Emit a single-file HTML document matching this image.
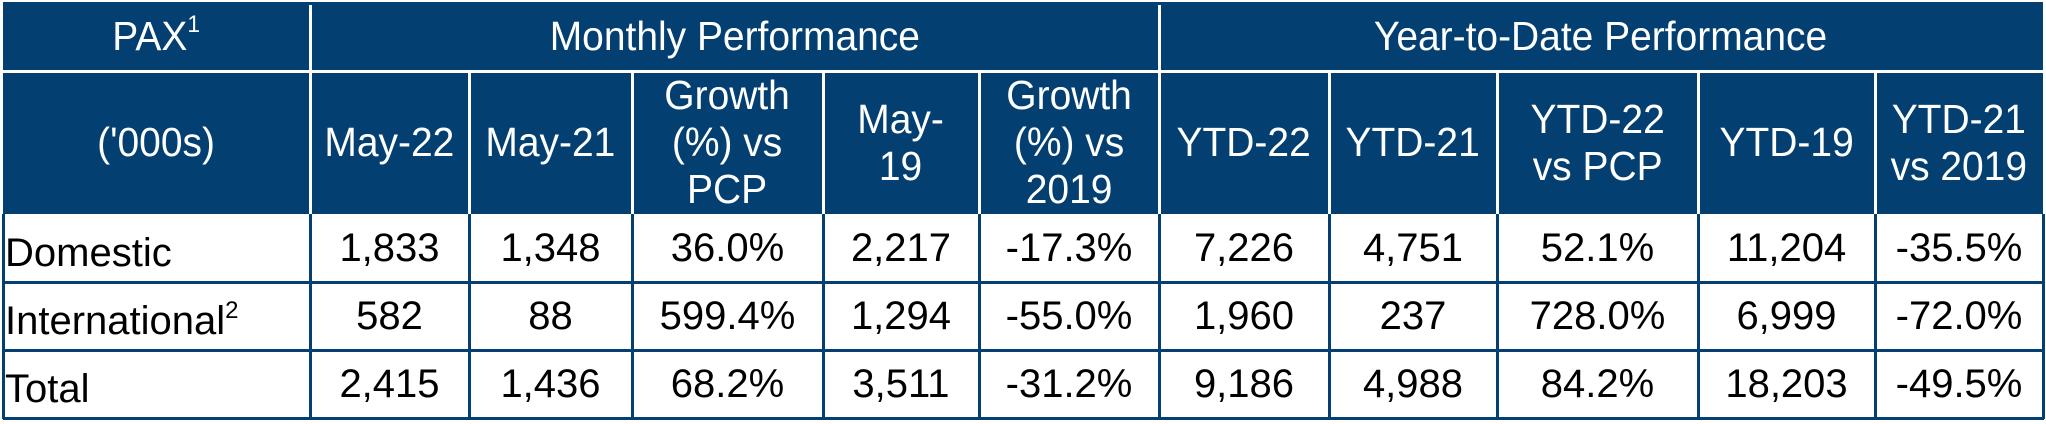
<!DOCTYPE html>
<html><head><meta charset="utf-8">
<style>
html,body{margin:0;padding:0;background:#fff;}
body{width:2046px;height:424px;position:relative;overflow:hidden;font-family:"Liberation Sans",Arial,sans-serif;}
.c{position:absolute;box-sizing:border-box;display:flex;align-items:center;justify-content:center;text-align:center;}
.h{background:#033f70;color:#fff;font-size:41px;line-height:47px;}
.h span{display:inline-block;transform:scaleX(0.95);}
.b{color:#000;font-size:40px;background:#fff;}
.lbl{justify-content:flex-start;align-items:flex-end;padding-left:2px;padding-bottom:6px;}
sup{font-size:24px;vertical-align:top;line-height:24px;position:relative;top:0px;}
.vl{position:absolute;width:3px;}
.hl{position:absolute;height:3px;}
</style></head><body>
<div id="t"></div>
<script>
const colX=[3,310,469,632,823,979,1159,1329,1497,1698,1875,2043];
const rowY=[2,71,214,282,350,418];
const headers=["May-22","May-21","Growth<br>(%) vs<br>PCP","May-<br>19","Growth<br>(%) vs<br>2019","YTD-22","YTD-21","YTD-22<br>vs PCP","YTD-19","YTD-21<br>vs 2019"];
const headerNames=["may-22","may-21","growth-vs-pcp","may-19","growth-vs-2019","ytd-22","ytd-21","ytd-22-vs-pcp","ytd-19","ytd-21-vs-2019"];
const rowLabels=["Domestic","International<sup>2</sup>","Total"];
const domestic=["1,833","1,348","36.0%","2,217","-17.3%","7,226","4,751","52.1%","11,204","-35.5%"];
const international=["582","88","599.4%","1,294","-55.0%","1,960","237","728.0%","6,999","-72.0%"];
const total=["2,415","1,436","68.2%","3,511","-31.2%","9,186","4,988","84.2%","18,203","-49.5%"];
const rows=[domestic,international,total];
const t=document.body;
function cell(x0,y0,x1,y1,cls,html){
  const d=document.createElement('div');
  d.className='c '+cls;
  d.style.left=x0+'px';d.style.top=y0+'px';
  d.style.width=(x1-x0)+'px';d.style.height=(y1-y0)+'px';
  d.innerHTML=html?'<span>'+html+'</span>':'';t.appendChild(d);return d;
}
let d;
d=cell(colX[0],rowY[0],colX[11],rowY[2],'h','');


d=cell(colX[0],rowY[0],colX[1],rowY[1],'h','PAX<sup>1</sup>');


d=cell(colX[1],rowY[0],colX[6],rowY[1],'h','Monthly Performance');


d=cell(colX[6],rowY[0],colX[11],rowY[1],'h','Year-to-Date Performance');


d=cell(colX[0],rowY[1],colX[1],rowY[2],'h',"('000s)");


headers.forEach((h,i)=>{
  const e=cell(colX[i+1],rowY[1],colX[i+2],rowY[2],'h',h);
  
  
});
rows.forEach((r,ri)=>{
  const l=cell(colX[0],rowY[ri+2],colX[1],rowY[ri+3],'b lbl',rowLabels[ri]);
  
  
  r.forEach((v,ci)=>{
    const e=cell(colX[ci+1],rowY[ri+2],colX[ci+2],rowY[ri+3],'b',v);
    
    
  });
});
function line(cls,x,y,w,h,col){
  const e=document.createElement('div');
  e.className=cls;e.style.left=x+'px';e.style.top=y+'px';
  if(w)e.style.width=w+'px';if(h)e.style.height=h+'px';
  e.style.background=col;t.appendChild(e);return e;
}
let g;
g=line('hl',colX[0],rowY[1]-1,colX[11]-colX[0],0,'#fff');


[1,6].forEach(i=>{
  g=line('vl',colX[i]-1,rowY[0]+3,0,rowY[2]-rowY[0]-3,'#fff');
  
  
});
[2,3,4,5,7,8,9,10].forEach(i=>{
  g=line('vl',colX[i]-1,rowY[1],0,rowY[2]-rowY[1],'#fff');
  
  
});
colX.forEach((x,i)=>{
  g=line('vl',x-1,rowY[2],0,rowY[5]-rowY[2]+1,'#033f70');
  
  
});
[3,4,5].forEach(i=>{
  g=line('hl',colX[0],rowY[i]-1,colX[11]-colX[0]+1,0,'#033f70');
  
  
});
</script>
</body></html>
